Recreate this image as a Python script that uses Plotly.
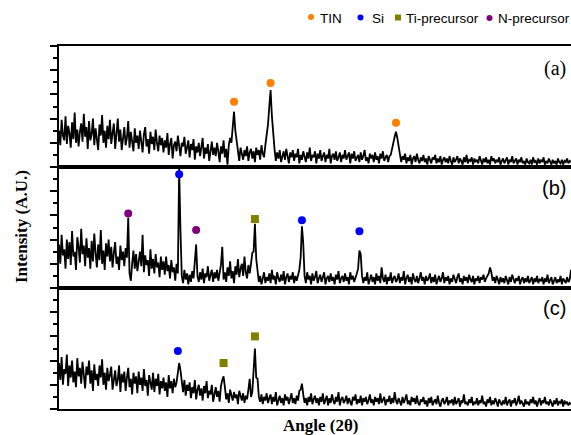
import plotly.graph_objects as go
from plotly.subplots import make_subplots

# ---------------- data ----------------
angle_start = 10.0
angle_step = 0.2

intensity_a = [
    3.0, 1.8, 3.9, 2.6, 2.2, 4.2, 1.9, 3.4, 2.8, 1.6, 3.7, 2.3, 4.5, 2.0, 3.1, 1.7, 2.9, 3.6, 2.1, 4.4,
    2.5, 3.3, 1.5, 3.8, 2.2, 2.7, 4.0, 1.8, 3.2, 2.4, 1.4, 3.5, 2.6, 4.3, 2.0, 3.0, 1.6, 3.4, 2.3, 3.9,
    1.9, 2.8, 3.6, 1.5, 2.5, 4.0, 2.1, 3.1, 1.4, 2.7, 3.3, 1.8, 2.4, 3.8, 1.6, 2.9, 2.2, 1.3, 3.2, 2.0,
    2.6, 1.5, 3.0, 2.1, 1.2, 2.7, 3.3, 1.7, 2.3, 1.1, 2.9, 1.9, 2.5, 1.4, 3.1, 2.0, 1.3, 2.6, 1.8, 2.4,
    1.2, 2.2, 1.6, 2.8, 1.0, 1.9, 2.4, 0.7, 1.8, 2.1, 1.3, 2.6, 1.5, 0.9, 2.0, 1.7, 2.5, 1.1, 1.6, 2.2,
    0.8, 1.9, 1.4, 2.3, 0.6, 1.7, 1.2, 2.0, 0.9, 1.5, 2.4, 0.7, 1.6, 1.1, 1.9, 0.5, 1.3, 2.1, 1.0, 1.6,
    0.9, 2.0, 1.3, 0.4, 1.7, 1.1, 2.2, 0.8, 1.5, 0.2, 1.8, 2.4, 2.0, 3.2, 4.57, 3.0, 2.2, 1.0, 0.5, 1.6,
    1.1, 0.6, 1.4, 0.9, 1.7, 0.5, 1.2, 1.5, 0.7, 1.3, 0.4, 1.6, 1.0, 1.4, 0.6, 1.8, 1.1, 0.8, 1.8, 2.5,
    3.5, 5.0, 6.36, 4.2, 2.6, 1.5, 0.5, 1.2, 0.7, 1.4, 0.4, 1.0, 1.3, 0.6, 1.5, 0.9, 0.3, 1.2, 0.8, 1.4,
    0.5, 1.1, 0.8, 1.5, 0.3, 1.0, 0.6, 1.3, 0.9, 0.4, 1.2, 0.7, 1.6, 0.5, 1.0, 0.8, 1.3, 0.3, 1.1, 0.7,
    1.4, 0.5, 0.9, 1.2, 0.4, 1.0, 0.7, 1.5, 0.3, 0.9, 1.1, 0.6, 1.3, 0.5, 0.8, 1.2, 0.4, 1.0, 0.7, 1.4,
    0.6, 0.9, 1.2, 0.3, 1.1, 0.7, 1.3, 0.5, 0.8, 1.0, 0.4, 1.2, 0.6, 0.9, 1.4, 0.5, 0.8, 0.3, 1.1, 0.7,
    1.0, 0.4, 1.2, 0.6, 0.9, 0.3, 1.1, 0.7, 1.3, 0.5, 0.8, 1.0, 0.4, 0.9, 1.0, 1.4, 2.0, 2.5, 2.92, 2.4,
    1.6, 1.0, 0.4, 0.9, 0.6, 1.1, 0.3, 0.8, 0.5, 1.0, 0.2, 0.7, 0.9, 0.4, 1.1, 0.6, 0.3, 0.8, 0.5, 1.0,
    0.4, 0.7, 0.2, 0.9, 0.5, 0.3, 0.8, 0.6, 1.0, 0.3, 0.7, 0.4, 0.9, 0.2, 0.6, 0.8, 0.4, 0.7, 0.3, 0.9,
    0.5, 0.2, 0.8, 0.4, 0.6, 0.9, 0.3, 0.7, 0.5, 0.2, 0.8, 0.4, 1.0, 0.3, 0.6, 0.5, 0.8, 0.2, 0.7, 0.4,
    0.6, 0.3, 0.9, 0.5, 0.2, 0.7, 0.4, 0.8, 0.3, 0.6, 0.2, 0.9, 0.5, 0.7, 0.3, 0.6, 0.4, 0.8, 0.2, 0.5,
    0.7, 0.3, 0.5, 0.8, 0.2, 0.6, 0.4, 0.9, 0.3, 0.5, 0.7, 0.2, 0.6, 0.4, 0.8, 0.3, 0.5, 0.2, 0.7, 0.4,
    0.3, 0.6, 0.2, 0.8, 0.4, 0.5, 0.2, 0.7, 0.3, 0.6, 0.4, 0.8, 0.2, 0.5, 0.3, 0.7, 0.4, 0.2, 0.6, 0.3,
    0.5, 0.2, 0.7, 0.4, 0.3, 0.6, 0.2, 0.5, 0.4, 0.7, 0.3, 0.5, 0.4,
]

intensity_b = [
    3.6, 2.0, 4.4, 2.7, 3.2, 1.6, 4.0, 2.4, 3.8, 1.9, 4.7, 2.6, 3.0, 1.5, 4.2, 3.4, 2.1, 4.9, 2.8, 3.5,
    1.8, 4.1, 2.5, 3.3, 1.6, 3.9, 2.2, 4.5, 2.9, 1.7, 3.6, 2.3, 4.8, 2.0, 3.1, 1.5, 3.7, 2.6, 4.0, 2.2,
    3.4, 1.7, 2.9, 3.8, 2.0, 2.6, 1.5, 3.5, 2.3, 3.0, 1.8, 3.3, 2.5, 5.8, 1.2, 0.6, 2.0, 3.1, 1.6, 2.8,
    1.4, 2.5, 3.0, 1.8, 4.4, 1.3, 2.7, 1.9, 2.3, 1.0, 3.2, 1.6, 2.4, 1.2, 2.8, 1.7, 2.1, 0.9, 2.6, 1.5,
    2.2, 1.1, 2.6, 1.4, 1.9, 0.8, 2.3, 1.3, 1.7, 0.6, 2.0, 1.2, 9.9, 4.7, 1.0, 0.4, 1.5, 0.7, 1.2, 0.3,
    1.1, 0.5, 1.4, 0.8, 2.2, 3.6, 1.0, 0.5, 1.3, 0.7, 1.6, 0.4, 1.2, 0.9, 1.8, 0.6, 1.1, 1.5, 0.5, 1.3,
    0.8, 1.5, 0.6, 1.2, 1.9, 3.4, 0.7, 1.3, 0.5, 1.7, 1.0, 2.2, 0.8, 1.4, 0.4, 1.8, 1.1, 2.4, 0.9, 1.6,
    2.0, 1.0, 2.6, 1.3, 0.8, 1.9, 1.2, 2.0, 2.9, 3.0, 5.3, 2.4, 1.2, 0.5, 1.0, 0.3, 0.8, 1.3, 0.4, 0.9,
    0.6, 1.2, 0.4, 1.5, 0.7, 1.0, 0.3, 1.3, 0.8, 0.5, 1.1, 0.6, 1.4, 0.3, 0.9, 1.2, 0.5, 1.0, 0.7, 1.3,
    0.4, 1.0, 0.6, 1.2, 1.5, 2.5, 5.1, 3.7, 1.0, 0.4, 1.3, 0.7, 1.0, 0.3, 1.2, 0.6, 0.9, 1.4, 0.4, 0.8,
    1.1, 0.5, 0.9, 1.3, 0.3, 0.8, 1.0, 0.5, 1.2, 0.6, 0.9, 0.3, 1.1, 0.7, 1.4, 0.4, 0.8, 1.0, 0.5, 1.2,
    0.6, 0.9, 0.3, 1.3, 0.7, 1.0, 0.5, 0.8, 1.2, 1.6, 3.1, 2.8, 1.0, 0.4, 0.9, 0.6, 1.3, 0.3, 0.8, 1.1,
    0.5, 0.9, 0.3, 1.2, 0.6, 1.0, 0.4, 1.7, 0.8, 0.5, 1.1, 0.3, 0.9, 0.6, 1.3, 0.4, 0.8, 1.0, 0.5, 0.7,
    1.2, 0.4, 0.9, 0.6, 1.4, 0.3, 0.8, 1.1, 0.5, 0.9, 0.3, 1.2, 0.7, 0.5, 1.0, 0.4, 0.8, 1.3, 0.6, 0.9,
    0.3, 1.0, 0.6, 0.8, 1.2, 0.4, 0.9, 0.5, 1.1, 0.3, 0.7, 1.0, 0.5, 0.8, 1.3, 0.4, 0.9, 0.6, 1.0, 0.3,
    0.8, 0.5, 1.1, 0.7, 0.4, 0.9, 1.2, 0.5, 0.8, 0.3, 1.0, 0.6, 0.9, 0.4, 1.1, 0.7, 0.5, 1.0, 0.3, 0.8,
    0.6, 1.0, 0.4, 0.9, 0.7, 1.1, 0.5, 0.8, 1.0, 1.2, 1.7, 1.3, 0.6, 0.9, 0.4, 1.0, 0.7, 0.3, 0.9, 0.5,
    0.8, 0.4, 1.0, 0.6, 0.3, 0.9, 0.5, 1.1, 0.7, 0.4, 0.8, 0.6, 1.0, 0.3, 0.7, 0.9, 0.4, 0.8, 0.5, 1.0,
    0.4, 0.7, 0.9, 0.3, 0.8, 0.5, 1.0, 0.4, 0.7, 0.6, 0.9, 0.3, 0.8, 0.5, 1.1, 0.4, 0.7, 0.9, 0.3, 0.6,
    0.9, 0.4, 0.7, 0.5, 1.0, 0.3, 0.8, 0.6, 0.4, 0.9, 0.5, 0.7, 1.5,
]

intensity_c = [
    3.8, 2.4, 4.3, 2.0, 3.3, 2.9, 4.5, 1.9, 3.6, 2.6, 4.0, 2.2, 3.1, 1.8, 4.2, 2.7, 3.4, 2.1, 3.9, 2.5,
    1.7, 3.5, 2.8, 4.0, 2.1, 3.2, 1.5, 3.7, 2.4, 2.9, 1.9, 3.6, 2.6, 4.1, 2.0, 3.0, 1.6, 3.4, 2.3, 2.8,
    3.5, 1.6, 2.7, 3.2, 1.9, 2.4, 3.6, 1.4, 2.9, 2.2, 3.1, 1.5, 2.6, 3.4, 1.8, 2.5, 1.2, 3.0, 2.1, 2.7,
    1.3, 3.1, 2.0, 2.6, 1.5, 3.3, 1.9, 2.4, 1.1, 2.8, 2.2, 1.6, 3.0, 1.4, 2.5, 1.9, 2.9, 1.2, 2.3, 1.7,
    2.6, 1.5, 2.2, 1.0, 2.8, 1.7, 2.3, 1.3, 2.5, 1.8, 2.2, 3.0, 3.8, 3.2, 2.5, 1.4, 2.4, 1.1, 2.0, 1.5,
    2.2, 0.9, 1.8, 1.3, 2.4, 0.8, 1.6, 2.0, 1.1, 1.7, 0.7, 1.9, 1.3, 2.3, 0.9, 1.5, 1.2, 2.0, 0.6, 1.4,
    1.8, 1.0, 1.5, 0.6, 1.9, 2.4, 2.7, 1.8, 0.8, 1.3, 0.5, 1.6, 1.0, 0.7, 1.4, 0.9, 1.2, 0.4, 1.5, 1.0,
    0.7, 1.3, 0.5, 1.1, 0.8, 1.6, 2.5, 1.0, 1.4, 3.2, 5.0, 2.6, 2.5, 1.0, 0.6, 1.2, 0.4, 1.0, 0.7, 1.3,
    0.5, 0.9, 1.2, 0.4, 1.0, 0.6, 1.4, 0.3, 0.8, 1.1, 0.5, 0.9, 0.3, 1.2, 0.7, 1.0, 0.4, 0.8, 1.3, 0.5,
    0.9, 0.4, 1.1, 0.7, 1.5, 1.6, 2.1, 1.2, 0.5, 0.9, 0.3, 1.0, 0.6, 1.3, 0.4, 0.8, 1.1, 0.5, 0.9, 0.3,
    1.0, 0.6, 1.3, 0.4, 0.8, 1.1, 0.3, 0.9, 0.5, 1.2, 0.7, 0.4, 1.0, 0.6, 1.4, 0.3, 0.8, 1.0, 0.5, 0.7,
    1.1, 0.4, 0.9, 0.6, 0.3, 1.0, 0.7, 1.2, 0.4, 0.8, 0.5, 1.1, 0.3, 0.9, 0.6, 1.0, 0.4, 0.7, 1.2, 0.5,
    0.8, 0.3, 1.0, 0.6, 0.9, 0.4, 1.3, 0.5, 0.7, 1.0, 0.3, 0.8, 0.6, 1.1, 0.4, 0.9, 0.5, 1.4, 0.7, 0.4,
    0.9, 0.6, 0.3, 1.0, 0.5, 0.8, 1.2, 0.4, 0.7, 0.3, 1.0, 0.6, 0.9, 0.4, 1.1, 0.5, 0.3, 0.8, 0.6, 1.0,
    0.4, 0.7, 0.2, 0.9, 0.5, 1.0, 0.3, 0.6, 0.8, 0.4, 1.1, 0.5, 0.2, 0.7, 0.9, 0.4, 0.6, 1.0, 0.3, 0.7,
    0.5, 0.8, 0.3, 1.0, 0.4, 0.6, 0.9, 0.2, 0.7, 0.5, 1.2, 0.4, 0.6, 0.3, 0.8, 0.5, 1.0, 0.3, 0.6, 0.4,
    0.9, 0.3, 0.7, 0.5, 1.1, 0.4, 0.6, 0.2, 0.8, 0.5, 1.0, 0.3, 0.7, 0.4, 0.9, 0.6, 0.2, 0.8, 0.5, 0.3,
    0.7, 0.4, 1.0, 0.3, 0.6, 0.8, 0.2, 0.7, 0.5, 0.9, 0.3, 0.6, 1.1, 0.4, 0.7, 0.5, 0.2, 0.8, 0.4, 0.6,
    0.3, 0.8, 0.5, 1.0, 0.4, 0.7, 0.2, 0.6, 0.9, 0.3, 0.7, 0.5, 1.0, 0.4, 0.6, 0.3, 0.8, 0.5, 0.2, 0.7,
    0.4, 0.9, 0.3, 0.6, 0.5, 0.8, 0.2, 0.7, 0.4, 0.6, 0.3, 0.5, 0.4,
]

# peak markers: (angle, height) per panel and phase
tin_a_x = [36.8, 42.4, 61.6]
tin_a_y = [5.4, 6.94, 3.66]

si_b_x = [28.4, 47.2, 56.0]
si_b_y = [9.4, 5.6, 4.7]
npre_b_x = [20.6, 31.0]
npre_b_y = [6.15, 4.8]
tipre_b_x = [40.0]
tipre_b_y = [5.7]

si_c_x = [28.2]
si_c_y = [4.8]
tipre_c_x = [35.2, 40.0]
tipre_c_y = [3.8, 6.0]

panel_labels = ["(a)", "(b)", "(c)"]
legend_names = ["TIN", "Si", "Ti-precursor", "N-precursor"]

# ---------------- styling ----------------
C_TIN = "#FF8000"
C_SI = "#0000FF"
C_TI = "#808000"
C_N = "#800080"

W, H = 571, 435
ML, MR, MT, MB = 59, 0, 46, 26
PW = W - ML - MR
PH = H - MT - MB


def px2paper(px, py):
    return (px - ML) / PW, (H - MB - py) / PH


fig = make_subplots(rows=3, cols=1, shared_xaxes=True, vertical_spacing=0)

series = [intensity_a, intensity_b, intensity_c]
for r, vals in enumerate(series, start=1):
    xs = [round(angle_start + i * angle_step, 2) for i in range(len(vals))]
    fig.add_trace(go.Scatter(x=xs, y=vals, mode="lines",
                             line=dict(color="black", width=1.8),
                             showlegend=False, hoverinfo="skip"), row=r, col=1)


def add_markers(xv, yv, color, symbol, row):
    fig.add_trace(go.Scatter(x=xv, y=yv, mode="markers",
                             marker=dict(color=color, size=8, symbol=symbol, line=dict(width=0)),
                             showlegend=False, cliponaxis=False), row=row, col=1)


add_markers(tin_a_x, tin_a_y, C_TIN, "circle", 1)
add_markers(si_b_x, si_b_y, C_SI, "circle", 2)
add_markers(npre_b_x, npre_b_y, C_N, "circle", 2)
add_markers(tipre_b_x, tipre_b_y, C_TI, "square", 2)
add_markers(si_c_x, si_c_y, C_SI, "circle", 3)
add_markers(tipre_c_x, tipre_c_y, C_TI, "square", 3)

for r in (1, 2, 3):
    fig.update_xaxes(range=[10, 88.4], showline=True, linecolor="black", linewidth=2,
                     mirror=True, ticks="", showticklabels=False, showgrid=False,
                     zeroline=False, row=r, col=1)
    fig.update_yaxes(range=[0, 10], showline=True, linecolor="black", linewidth=2,
                     mirror=False, ticks="outside", ticklen=7, tickwidth=2, tickcolor="black",
                     tick0=0, dtick=2, showticklabels=False, showgrid=False, zeroline=False,
                     minor=dict(ticks="outside", ticklen=4, tickwidth=2, tickcolor="black",
                                dtick=1, tick0=0, showgrid=False),
                     row=r, col=1)

annotations = []
# panel labels
label_pos = [(568, 68.5, "Liberation Serif"), (568, 187.5, "Liberation Sans"), (568, 307.5, "Liberation Sans")]
for txt, (px, py, fam) in zip(panel_labels, label_pos):
    ax, ay = px2paper(px, py)
    annotations.append(dict(text=txt, x=ax, y=ay, xref="paper", yref="paper",
                            xanchor="right", yanchor="middle", showarrow=False,
                            font=dict(family=fam, size=20, color="black")))

# axis titles
ax, ay = px2paper(21, 227)
annotations.append(dict(text="<b>Intensity (A.U.)</b>", x=ax, y=ay, xref="paper", yref="paper",
                        textangle=-90, xanchor="center", yanchor="middle", showarrow=False,
                        font=dict(family="Liberation Serif", size=17, color="black")))
ax, ay = px2paper(320, 426)
annotations.append(dict(text="<b>Angle (2θ)</b>", x=ax, y=ay, xref="paper", yref="paper",
                        xanchor="center", yanchor="middle", showarrow=False,
                        font=dict(family="Liberation Serif", size=17, color="black")))

# legend (top)
legend_items = [
    (legend_names[0], C_TIN, "circle", 311, 17, 318),
    (legend_names[1], C_SI, "circle", 360.5, 17.5, 370),
    (legend_names[2], C_TI, "rect", 398, 17.5, 404),
    (legend_names[3], C_N, "circle", 489.5, 18, 496),
]
shapes = []
for name, col, kind, mx, my, tx in legend_items:
    r = 3
    x0, y0 = px2paper(mx - r, my + r)
    x1, y1 = px2paper(mx + r, my - r)
    shapes.append(dict(type=kind, xref="paper", yref="paper", x0=x0, y0=y0, x1=x1, y1=y1,
                       fillcolor=col, line=dict(width=0)))
    ax, ay = px2paper(tx, 18.5)
    annotations.append(dict(text=name, x=ax, y=ay, xref="paper", yref="paper",
                            xanchor="left", yanchor="middle", showarrow=False,
                            font=dict(family="Liberation Sans", size=13.5, color="black")))

fig.update_layout(width=W, height=H, margin=dict(l=ML, r=MR, t=MT, b=MB),
                  paper_bgcolor="white", plot_bgcolor="white",
                  annotations=annotations, shapes=shapes, showlegend=False)

fig.write_html("out.html", config={"displayModeBar": False},
               post_script="document.body.style.margin='0';document.body.style.padding='0';"
                           "document.body.style.overflow='hidden';")
